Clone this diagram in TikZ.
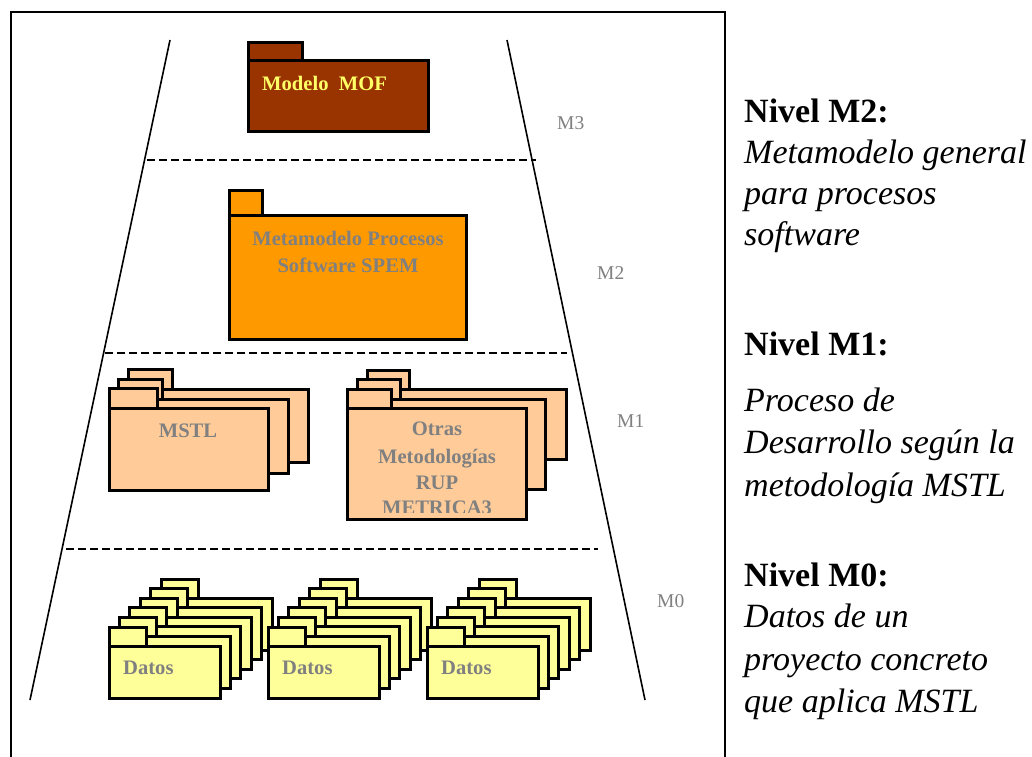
\documentclass[tikz,border=0pt]{standalone}
\usepackage{fontspec}
\setmainfont{Liberation Serif}
\definecolor{mofbrown}{HTML}{993300}
\definecolor{mofyellow}{HTML}{FFFF66}
\definecolor{spemorange}{HTML}{FF9900}
\definecolor{mstlpeach}{HTML}{FFCC99}
\definecolor{datosyellow}{HTML}{FFFF99}
\definecolor{labelgray}{HTML}{808080}
\tikzset{
  pkg/.style={draw=black, line width=3pt, line join=miter},
  lbl/.style={font=\fontsize{20.6}{24}\selectfont\bfseries, text=labelgray, inner sep=0pt},
  lvl/.style={font=\fontsize{19.5}{22}\selectfont, text=labelgray, inner sep=0pt, anchor=base west},
  sidehead/.style={font=\fontsize{34}{40}\selectfont\bfseries, inner sep=0pt, anchor=base west},
  sidetext/.style={font=\fontsize{34}{40}\selectfont\itshape, inner sep=0pt, anchor=base west},
  sep/.style={dash pattern=on 8pt off 4pt, line width=2.2pt},
  edgeline/.style={line width=1.6pt},
}
\newcommand\pkgfolder[7]{%
  \filldraw[pkg,fill=#7] (#1,#3) rectangle (#2,#4);
  \filldraw[pkg,fill=#7] (#1,#4) rectangle (#5,#6);}
\newcommand\datosgroup[2]{%
  \foreach \i in {5,4,...,0}{%
    \pgfmathsetmacro\dx{#1+10.4*\i}%
    \pgfmathsetmacro\dy{-9.6*\i}%
    \begin{scope}[shift={(\dx,\dy)}]
      \filldraw[pkg,fill=datosyellow] (0,627) rectangle (37,646);
      \filldraw[pkg,fill=datosyellow] (0,646) rectangle (111,698);
    \end{scope}}
  \node[lbl,anchor=base west] (#2) at (#1+14,674) {Datos};}
\begin{document}
\begin{tikzpicture}[x=1pt,y=-1pt]
\useasboundingbox (0,0) rectangle (1032,756);
\clip (0,0) rectangle (1032,756);
% frame
\draw[line width=2.4pt] (11,12) rectangle (725,800);
% trapezoid sides
\coordinate (lt) at (170,40);
\coordinate (lb) at (30,700);
\coordinate (rt) at (507,40);
\coordinate (rb) at (645,700);
\draw[edgeline] (lt) -- (lb);
\draw[edgeline] (rt) -- (rb);
% separators
\coordinate (s1a) at (147,160); \coordinate (s1b) at (536,160);
\coordinate (s2a) at (105,353); \coordinate (s2b) at (567,353);
\coordinate (s3a) at (66,549);  \coordinate (s3b) at (598,549);
\draw[sep] (s1a) -- (s1b);
\draw[sep] (s2a) -- (s2b);
\draw[sep] (s3a) -- (s3b);
% level labels
\node[lvl] (m3) at (557,129) {M3};
\node[lvl] (m2) at (597,279) {M2};
\node[lvl] (m1) at (617,427) {M1};
\node[lvl] (m0) at (657,607) {M0};
% MOF
\pkgfolder{248}{302}{42}{60}{428}{131}{mofbrown}
\node[lbl,text=mofyellow,anchor=base west] (mof) at (262,90) {Modelo\ \ MOF};
% SPEM
\pkgfolder{229}{262}{190}{215}{466}{339}{spemorange}
\node[lbl,anchor=base] (spem1) at (348,245) {Metamodelo Procesos};
\node[lbl,anchor=base] (spem2) at (348,272) {Software SPEM};
% MSTL
\pkgfolder{128}{172}{369}{389}{308}{462}{mstlpeach}
\pkgfolder{118}{162}{379}{399}{288}{473}{mstlpeach}
\pkgfolder{109}{157}{388}{408}{268}{490}{mstlpeach}
\node[lbl,anchor=base] (mstl) at (188,437) {MSTL};
% Otras
\pkgfolder{367}{409}{370}{389}{566}{459}{mstlpeach}
\pkgfolder{357}{400}{379}{399}{545}{489}{mstlpeach}
\pkgfolder{347}{391}{389}{408}{526}{519}{mstlpeach}
\begin{scope}
  \clip (349,410) rectangle (524,512);
  \node[lbl,anchor=base] (ot1) at (437,435) {Otras};
  \node[lbl,anchor=base] (ot2) at (437,463) {Metodologías};
  \node[lbl,anchor=base] (ot3) at (437,489) {RUP};
  \node[lbl,anchor=base] (ot4) at (437,514) {METRICA3};
\end{scope}
% Datos groups
\datosgroup{109}{d1}
\datosgroup{268}{d2}
\datosgroup{427}{d3}
% side text
\node[sidehead] (n2) at (744,122) {Nivel M2:};
\node[sidetext] (t21) at (744,163) {Metamodelo general};
\node[sidetext] (t22) at (744,204) {para procesos};
\node[sidetext] (t23) at (744,245) {software};
\node[sidehead] (n1) at (744,355) {Nivel M1:};
\node[sidetext] (t11) at (744,411) {Proceso de};
\node[sidetext] (t12) at (744,453) {Desarrollo según la};
\node[sidetext] (t13) at (744,496) {metodología MSTL};
\node[sidehead] (n0) at (744,586) {Nivel M0:};
\node[sidetext] (t01) at (744,627) {Datos de un};
\node[sidetext] (t02) at (744,670) {proyecto concreto};
\node[sidetext] (t03) at (744,712) {que aplica MSTL};
\end{tikzpicture}
\end{document}
